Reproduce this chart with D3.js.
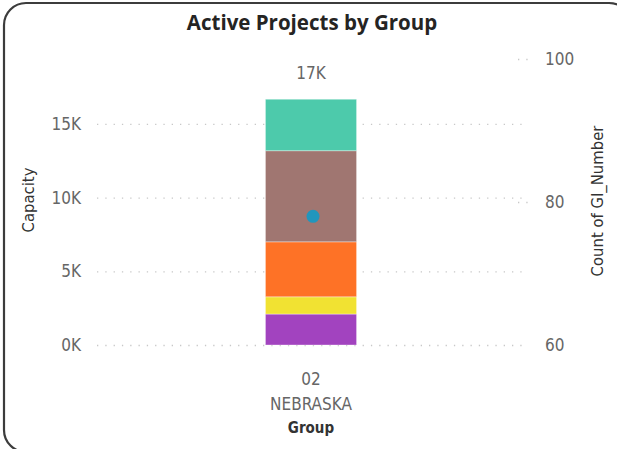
<!DOCTYPE html>
<html>
<head>
<meta charset="utf-8">
<script src="https://cdn.jsdelivr.net/npm/d3@7"></script>
<style>
  html, body { margin: 0; padding: 0; background: #fff; }
  svg { display: block; }
  .tick-lbl { font-family: "DejaVu Sans Condensed", "DejaVu Sans", sans-serif; font-size: 17px; fill: #666; }
  .ax-title { font-family: "DejaVu Sans Condensed", "DejaVu Sans", sans-serif; font-size: 16.5px; fill: #333; }
</style>
</head>
<body>
<svg id="chart" width="617" height="449"></svg>
<script>
/* Active Projects by Group – stacked column + count marker */

const W = 617, H = 449;

// data
const GROUPS = ["02 NEBRASKA"];
const SEGMENTS = ["Purple", "Yellow", "Orange", "Brown", "Teal"];
const SEG_VALUES = [2100, 1170, 3730, 6180, 3490];
const SEG_COLORS = ["#a243bf", "#f1e232", "#fe7226", "#a07671", "#4dcaab"];
const COUNT_VALUES = [78];
const LEFT_TICKS = [0, 5000, 10000, 15000];
const RIGHT_TICKS = [60, 80, 100];

const plot = { left: 97, right: 525, top: 59, bottom: 345 };

const svg = d3.select("#chart");

// frame
svg.append("rect")
  .attr("x", 4).attr("y", 3)
  .attr("width", W + 10).attr("height", H + 0)
  .attr("rx", 22).attr("ry", 22)
  .attr("fill", "#fff")
  .attr("stroke", "#3c3c3c")
  .attr("stroke-width", 2.2);

// title
svg.append("text")
  .attr("x", 312).attr("y", 30)
  .attr("text-anchor", "middle")
  .style("font-family", "'Open Sans', sans-serif")
  .style("font-weight", "700")
  .style("font-size", "20.5px")
  .style("fill", "#252423")
  .text("Active Projects by Group");

const y = d3.scaleLinear().domain([0, 19400]).range([plot.bottom, plot.top]);
const y2 = d3.scaleLinear().domain([60, 100]).range([plot.bottom, plot.top]);
const x = d3.scaleBand().domain(GROUPS).range([plot.left, plot.right]).padding(0.649);

// gridlines (left axis)
svg.append("g")
  .selectAll("line")
  .data(LEFT_TICKS)
  .join("line")
  .attr("x1", plot.left).attr("x2", plot.right)
  .attr("y1", d => y(d) + 0.5).attr("y2", d => y(d) + 0.5)
  .attr("stroke", "#c8c8c8")
  .attr("stroke-width", 1.3)
  .attr("stroke-dasharray", "1.3,7");

// right axis gridline stubs
svg.append("g")
  .selectAll("line")
  .data(RIGHT_TICKS.filter(d => d !== 60))
  .join("line")
  .attr("x1", 518).attr("x2", 532)
  .attr("y1", d => y2(d) + 0.5).attr("y2", d => y2(d) + 0.5)
  .attr("stroke", "#c8c8c8")
  .attr("stroke-width", 1.3)
  .attr("stroke-dasharray", "1.3,7");

// left axis
const fmtK = d => (d / 1000) + "K";
const gl = svg.append("g")
  .attr("transform", `translate(${plot.left - 16},0)`)
  .call(d3.axisLeft(y).tickValues(LEFT_TICKS).tickFormat(fmtK).tickSize(0).tickPadding(0));
gl.select(".domain").remove();
gl.selectAll("text").attr("class", "tick-lbl").attr("fill", null).attr("font-size", null).attr("font-family", null);

// right axis
const gr = svg.append("g")
  .attr("transform", `translate(${plot.right + 20},0)`)
  .call(d3.axisRight(y2).tickValues(RIGHT_TICKS).tickSize(0).tickPadding(0));
gr.select(".domain").remove();
gr.selectAll("text").attr("class", "tick-lbl").attr("fill", null).attr("font-size", null).attr("font-family", null);

// stacked bar
const stackRow = {};
SEGMENTS.forEach((s, i) => { stackRow[s] = SEG_VALUES[i]; });
stackRow.group = GROUPS[0];
const series = d3.stack().keys(SEGMENTS)([stackRow]);
const color = d3.scaleOrdinal().domain(SEGMENTS).range(SEG_COLORS);

svg.append("g")
  .selectAll("g")
  .data(series)
  .join("g")
  .attr("fill", d => color(d.key))
  .selectAll("rect")
  .data(d => d)
  .join("rect")
  .attr("x", d => x(d.data.group))
  .attr("width", x.bandwidth())
  .attr("y", d => y(d[1]))
  .attr("height", d => y(d[0]) - y(d[1]))
  .attr("stroke", "#fff")
  .attr("stroke-opacity", 0.35)
  .attr("stroke-width", 1);

// total label
const total = d3.sum(SEG_VALUES);
svg.append("text")
  .attr("class", "tick-lbl")
  .attr("x", x(GROUPS[0]) + x.bandwidth() / 2)
  .attr("y", y(total) - 20)
  .attr("text-anchor", "middle")
  .text(Math.round(total / 1000) + "K");

// count marker
svg.append("g")
  .selectAll("circle")
  .data(COUNT_VALUES)
  .join("circle")
  .attr("cx", (d, i) => x(GROUPS[i]) + x.bandwidth() / 2 + 2)
  .attr("cy", d => y2(d))
  .attr("r", 6.5)
  .attr("fill", "#2196bd");

// category labels
GROUPS.forEach(g => {
  const [code, name] = g.split(" ");
  const cx = x(g) + x.bandwidth() / 2;
  svg.append("text").attr("class", "tick-lbl")
    .attr("x", cx).attr("y", 385).attr("text-anchor", "middle").text(code);
  svg.append("text").attr("class", "tick-lbl")
    .attr("x", cx).attr("y", 410).attr("text-anchor", "middle").text(name);
});

// axis titles
svg.append("text").attr("class", "ax-title")
  .attr("x", 311).attr("y", 433)
  .attr("text-anchor", "middle")
  .style("font-weight", "700")
  .style("font-size", "15px")
  .text("Group");

svg.append("text").attr("class", "ax-title")
  .attr("transform", "translate(34,200) rotate(-90)")
  .attr("text-anchor", "middle")
  .text("Capacity");

svg.append("text").attr("class", "ax-title")
  .attr("transform", "translate(603,201) rotate(-90)")
  .attr("text-anchor", "middle")
  .text("Count of GI_Number");
</script>
</body>
</html>
